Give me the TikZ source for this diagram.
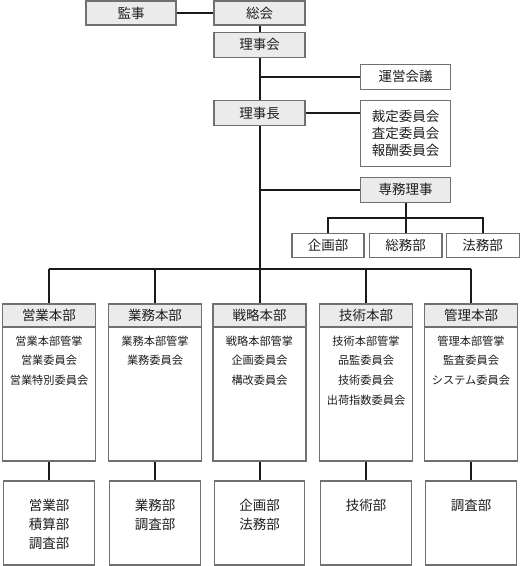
\documentclass[tikz,border=0pt]{standalone}
\usepackage{fontspec}
\newfontfamily\jp{Noto Sans CJK JP}
\definecolor{fillgray}{HTML}{EBEBEB}
\definecolor{bordergray}{HTML}{707070}
\definecolor{linec}{HTML}{1A1A1A}
\definecolor{textc}{HTML}{1E1E1E}
\tikzset{
  box/.style={draw=bordergray, line width=1.2pt, inner sep=0pt, text=textc,
    font=\jp\fontsize{13.5}{17}\selectfont, align=center},
  gbox/.style={box, fill=fillgray},
  wbox/.style={box, fill=white},
  conn/.style={draw=linec, line width=2pt},
  subtext/.style={inner sep=0pt, text=textc, align=center,
    font=\jp\fontsize{11.2}{19.7}\selectfont},
  lowtext/.style={inner sep=0pt, text=textc, align=center,
    font=\jp\fontsize{13.5}{19}\selectfont},
}
\begin{document}
\begin{tikzpicture}[x=1pt,y=-1pt]
\useasboundingbox (0,0) rectangle (520,566);
% top nodes
\node[gbox, minimum width=90, minimum height=24] (kanji) at (131,13) {監事};
\node[gbox, minimum width=91, minimum height=24] (sokai) at (259.5,13) {総会};
\node[gbox, minimum width=91, minimum height=25] (rijikai) at (259.5,44.8) {理事会};
\node[wbox, minimum width=90, minimum height=25] (unei) at (405.5,76.8) {運営会議};
\node[gbox, minimum width=91, minimum height=25.5] (rijicho) at (259.5,113) {理事長};
\node[wbox, minimum width=90, minimum height=66] (iinkai) at (405.5,133.2) {裁定委員会\\査定委員会\\報酬委員会};
\node[gbox, minimum width=90, minimum height=25] (senmu) at (405.7,189.8) {専務理事};
\node[wbox, minimum width=72, minimum height=24] (kikaku) at (328,245.3) {企画部};
\node[wbox, minimum width=72.5, minimum height=24] (somu) at (405.7,245.3) {総務部};
\node[wbox, minimum width=73, minimum height=24] (homu) at (482.7,245.3) {法務部};
% bar coordinates
\coordinate (barL) at (49,269);
\coordinate (barR) at (471,269);
\coordinate (sbar) at (405.7,218);
% headquarters
\foreach \i/\x/\h/\s/\l in {
  1/49/営業本部/{営業本部管掌\\営業委員会\\営業特別委員会}/{営業部\\積算部\\調査部},
  2/155/業務本部/{業務本部管掌\\業務委員会}/{業務部\\調査部},
  3/259.5/戦略本部/{戦略本部管掌\\企画委員会\\構改委員会}/{企画部\\法務部},
  4/366/技術本部/{技術本部管掌\\品監委員会\\技術委員会\\出荷指数委員会}/{技術部},
  5/471/管理本部/{管理本部管掌\\監査委員会\\システム委員会}/{調査部}}{
  \node[wbox, minimum width=93, minimum height=157] (hq\i) at (\x,382.5) {};
  \node[gbox, minimum width=93, minimum height=23, anchor=north] (hq\i h) at (hq\i.north) {\h};
  \node[subtext, anchor=north] (hq\i s) at (\x,335.5) {\s};
  \node[wbox, minimum width=90.5, minimum height=84] (dept\i) at (\x,523) {};
  \node[lowtext, anchor=north] (dept\i t) at (\x,498.5) {\l};
  \draw[conn] (hq\i.south) -- (dept\i.north);
  \draw[conn] (hq\i.north) -- (hq\i.north |- barL);
}
% connectors
\draw[conn] (kanji.east) -- (sokai.west);
\draw[conn] (sokai.south) -- (rijikai.north);
\draw[conn] (rijikai.south) -- (rijicho.north);
\draw[conn] (rijikai.south |- unei.west) -- (unei.west);
\draw[conn] (rijicho.east) -- (iinkai.west |- rijicho.east);
\draw[conn] (rijicho.south) -- (rijicho.south |- barL);
\draw[conn] (rijicho.south |- senmu.west) -- (senmu.west);
\draw[conn] (barL) -- (barR);
\draw[conn] (senmu.south) -- (somu.north);
\draw[conn] (kikaku.north) -- (kikaku.north |- sbar) -- (homu.north |- sbar) -- (homu.north);
\end{tikzpicture}
\end{document}
